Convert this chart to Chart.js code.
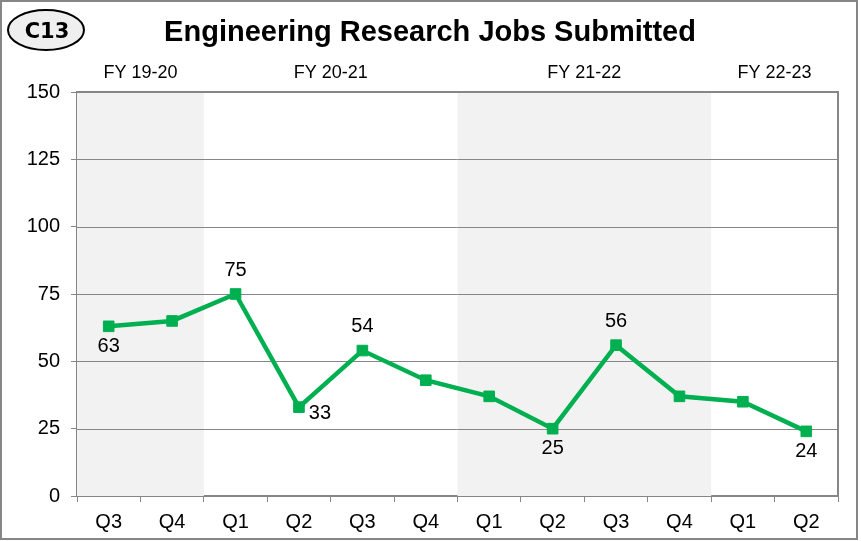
<!DOCTYPE html>
<html>
<head>
<meta charset="utf-8">
<script src="https://cdn.jsdelivr.net/npm/chart.js@4/dist/chart.umd.min.js"></script>
<style>
  html, body { margin: 0; padding: 0; background: #fff; }
  #wrap { width: 861px; height: 541px; position: relative; }
</style>
</head>
<body>
<div id="wrap"><canvas id="grafico" width="861" height="541"></canvas></div>
<script>
const quarters = ["Q3", "Q4", "Q1", "Q2", "Q3", "Q4", "Q1", "Q2", "Q3", "Q4", "Q1", "Q2"];
const jobs = [63, 65, 75, 33, 54, 43, 37, 25, 56, 37, 35, 24];
const fiscalYears = ["FY 19-20", "FY 20-21", "FY 21-22", "FY 22-23"];
const fyStart = [0, 2, 6, 10];
const fyEnd = [1, 5, 9, 11];
const shadedYears = [0, 2];
const yTicks = [0, 25, 50, 75, 100, 125, 150];
// which points get a value label, and where
const labelPlace = ["below", null, "above", "right", "above", null, null, "below", "above", null, null, "below"];

const fonte = "'Liberation Sans', Arial, sans-serif";

const molduraPlugin = {
  id: "moldura",
  beforeDatasetsDraw(chart) {
    const { ctx, chartArea: a, scales: { x } } = chart;
    const half = (x.getPixelForValue(1) - x.getPixelForValue(0)) / 2;
    ctx.save();
    ctx.fillStyle = "#f2f2f2";
    shadedYears.forEach(i => {
      const l = x.getPixelForValue(fyStart[i]) - half;
      const r = x.getPixelForValue(fyEnd[i]) + half;
      ctx.fillRect(l, a.top, r - l, a.bottom - a.top);
    });
    // redraw horizontal grid over the shading
    const y = chart.scales.y;
    ctx.strokeStyle = "#868686";
    ctx.lineWidth = 1;
    yTicks.forEach(v => {
      const py = Math.round(y.getPixelForValue(v)) + 0.5;
      ctx.beginPath();
      ctx.moveTo(a.left, py);
      ctx.lineTo(a.right, py);
      ctx.stroke();
    });
    ctx.restore();
  },
  afterDraw(chart) {
    const { ctx, chartArea: a, scales: { x, y } } = chart;
    ctx.save();
    // plot frame
    ctx.strokeStyle = "#868686";
    ctx.lineWidth = 2;
    ctx.beginPath();
    ctx.moveTo(a.left, a.top);
    ctx.lineTo(a.right, a.top);
    ctx.lineTo(a.right, a.bottom);
    ctx.stroke();
    // outer border
    ctx.strokeRect(1, 1, 856, 538);

    // title
    ctx.fillStyle = "#000";
    ctx.textAlign = "center";
    ctx.textBaseline = "middle";
    ctx.font = "bold 29px " + fonte;
    ctx.fillText("Engineering Research Jobs Submitted", 430, 33);

    // C13 badge
    ctx.beginPath();
    ctx.ellipse(46, 30, 38, 20, 0, 0, Math.PI * 2);
    ctx.fillStyle = "#efefef";
    ctx.fill();
    ctx.strokeStyle = "#000";
    ctx.lineWidth = 2;
    ctx.stroke();
    ctx.fillStyle = "#000";
    ctx.font = "bold 21px 'DejaVu Sans', sans-serif";
    ctx.fillText("C13", 47, 32.5);

    // fiscal year labels
    ctx.font = "18px " + fonte;
    fiscalYears.forEach((t, i) => {
      const cx = (x.getPixelForValue(fyStart[i]) + x.getPixelForValue(fyEnd[i])) / 2;
      ctx.fillText(t, cx, 73);
    });

    // value labels
    ctx.font = "20px " + fonte;
    jobs.forEach((v, i) => {
      const p = labelPlace[i];
      if (!p) return;
      const px = x.getPixelForValue(i);
      const py = y.getPixelForValue(v);
      if (p === "above") ctx.fillText(v, px, py - 24);
      else if (p === "below") ctx.fillText(v, px, py + 20);
      else ctx.fillText(v, px + 21, py + 6);
    });
    ctx.restore();
  }
};

new Chart(document.getElementById("grafico"), {
  type: "line",
  data: {
    labels: quarters,
    datasets: [{
      data: jobs,
      borderColor: "#00b050",
      backgroundColor: "#00b050",
      borderWidth: 4.5,
      pointStyle: "rect",
      pointRadius: 7.5,
      pointBorderWidth: 1,
      tension: 0
    }]
  },
  plugins: [molduraPlugin],
  options: {
    responsive: false,
    animation: false,
    layout: { padding: { left: 0, top: 92, right: 23, bottom: 0 } },
    plugins: { legend: { display: false }, tooltip: { enabled: false } },
    scales: {
      x: {
        offset: true,
        grid: { drawOnChartArea: false, color: "#868686", tickLength: 6, offset: true },
        border: { color: "#868686", width: 2 },
        ticks: { color: "#000", font: { family: fonte, size: 20 }, padding: 8, maxRotation: 0 },
        afterFit(s) { s.height = 45; }
      },
      y: {
        min: 0,
        max: 150,
        grid: { drawOnChartArea: false, color: "#868686", tickLength: 6 },
        border: { color: "#868686", width: 2 },
        ticks: { stepSize: 25, color: "#000", font: { family: fonte, size: 20 }, padding: 11 },
        afterFit(s) { s.width = 77; }
      }
    }
  }
});
</script>
</body>
</html>
